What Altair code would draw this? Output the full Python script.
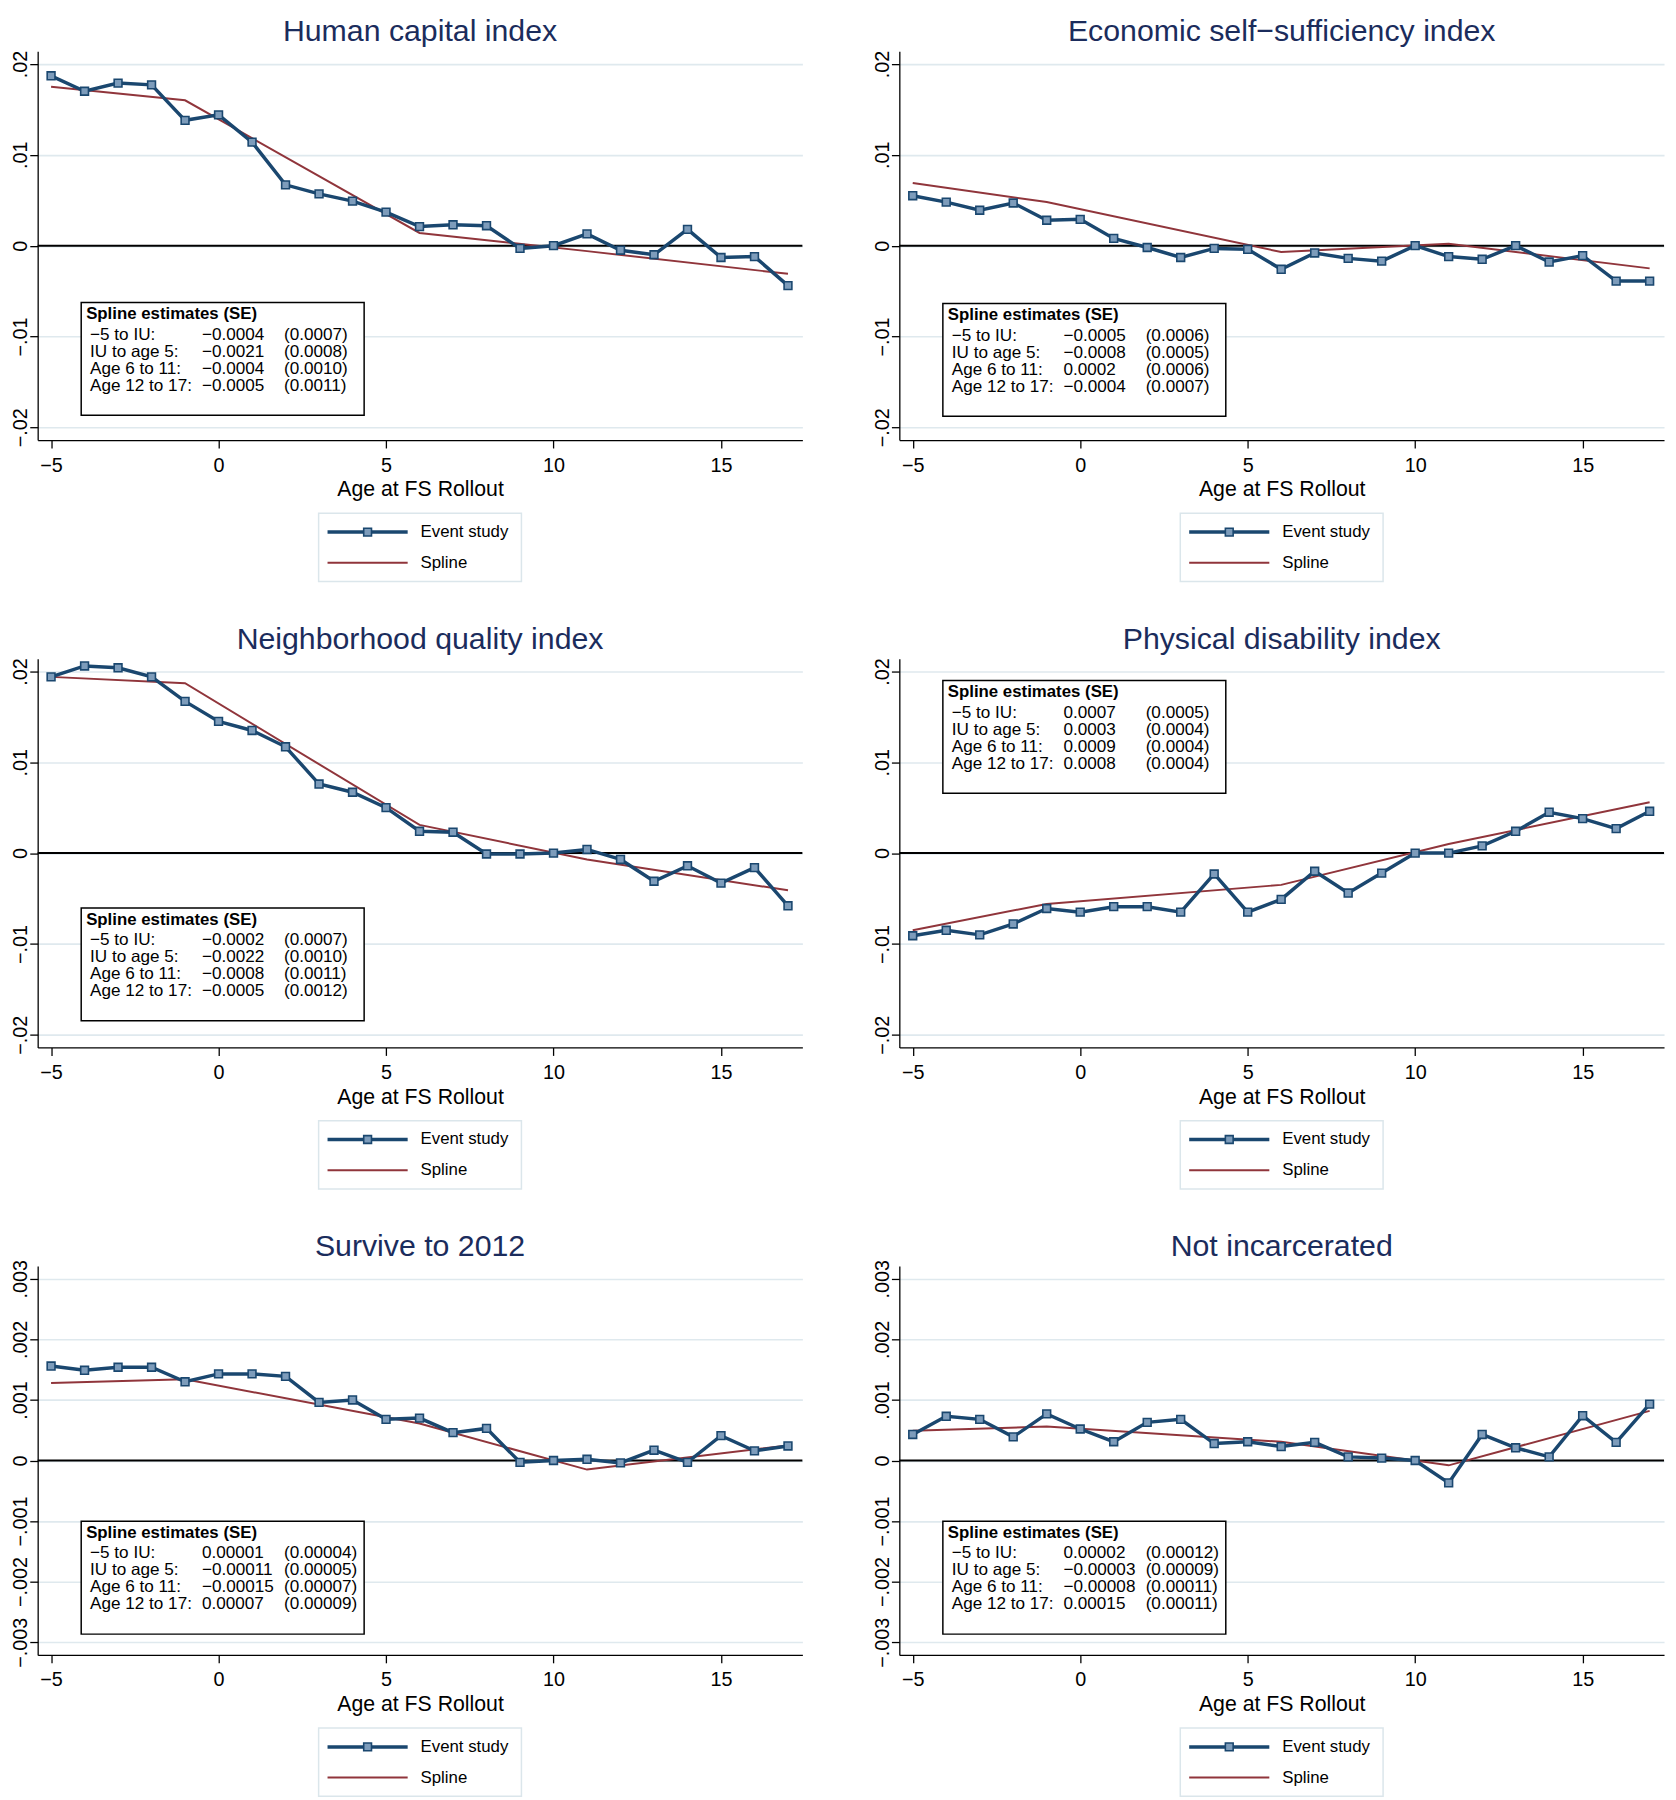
import altair as alt
import pandas as pd

# ---------------- data ----------------
AGES = list(range(-5, 18))
KNOTS = [-5, -1, 6, 11, 17]
ROW_LABELS = ["\u22125 to IU:", "IU to age 5:", "Age 6 to 11:", "Age 12 to 17:"]
LEGEND_LABELS = ["Event study", "Spline"]
X_TICKS = [-5, 0, 5, 10, 15]
Y_TICKS_BIG = [-0.02, -0.01, 0, 0.01, 0.02]
Y_TICKS_SMALL = [-0.003, -0.002, -0.001, 0, 0.001, 0.002, 0.003]

titles = ["Human capital index", "Economic self\u2212sufficiency index",
          "Neighborhood quality index", "Physical disability index",
          "Survive to 2012", "Not incarcerated"]

event_human = [0.0187, 0.0170, 0.0179, 0.0177, 0.0138, 0.0144, 0.0114, 0.0067, 0.0057, 0.0049,
               0.0037, 0.0021, 0.0023, 0.0022, -0.0003, 0.0000, 0.0013, -0.0005, -0.0010, 0.0018,
               -0.0013, -0.0012, -0.0044]
spline_human = [0.0175, 0.0160, 0.0014, -0.0006, -0.0031]
est_human = ["\u22120.0004", "\u22120.0021", "\u22120.0004", "\u22120.0005"]
se_human = ["(0.0007)", "(0.0008)", "(0.0010)", "(0.0011)"]

event_econ = [0.0055, 0.0048, 0.0039, 0.0047, 0.0028, 0.0029, 0.0008, -0.0002, -0.0013, -0.0003,
              -0.0004, -0.0026, -0.0008, -0.0014, -0.0017, 0.0000, -0.0012, -0.0015, 0.0000, -0.0018,
              -0.0011, -0.0039, -0.0039]
spline_econ = [0.0069, 0.0048, -0.0007, 0.0002, -0.0025]
est_econ = ["\u22120.0005", "\u22120.0008", "\u20050.0002", "\u22120.0004"]
se_econ = ["(0.0006)", "(0.0005)", "(0.0006)", "(0.0007)"]

event_neigh = [0.0194, 0.0206, 0.0204, 0.0194, 0.0167, 0.0145, 0.0135, 0.0117, 0.0076, 0.0067,
               0.0050, 0.0024, 0.0023, -0.0001, -0.0001, 0.0000, 0.0004, -0.0007, -0.0031, -0.0014,
               -0.0033, -0.0016, -0.0058]
spline_neigh = [0.0194, 0.0187, 0.0031, -0.0007, -0.0041]
est_neigh = ["\u22120.0002", "\u22120.0022", "\u22120.0008", "\u22120.0005"]
se_neigh = ["(0.0007)", "(0.0010)", "(0.0011)", "(0.0012)"]

event_phys = [-0.0091, -0.0085, -0.0090, -0.0078, -0.0061, -0.0065, -0.0059, -0.0059, -0.0065, -0.0023,
              -0.0065, -0.0051, -0.0020, -0.0044, -0.0022, 0.0000, 0.0000, 0.0008, 0.0024, 0.0045,
              0.0038, 0.0027, 0.0046]
spline_phys = [-0.0085, -0.0056, -0.0035, 0.0010, 0.0056]
est_phys = ["0.0007", "0.0003", "0.0009", "0.0008"]
se_phys = ["(0.0005)", "(0.0004)", "(0.0004)", "(0.0004)"]

event_surv = [0.00156, 0.00149, 0.00154, 0.00154, 0.00130, 0.00143, 0.00143, 0.00139, 0.00096, 0.00100,
              0.00068, 0.00070, 0.00046, 0.00053, -0.00003, 0.00000, 0.00002, -0.00004, 0.00017, -0.00003,
              0.00041, 0.00016, 0.00024]
spline_surv = [0.00128, 0.00134, 0.00061, -0.00015, 0.00025]
est_surv = ["\u20050.00001", "\u22120.00011", "\u22120.00015", "\u20050.00007"]
se_surv = ["(0.00004)", "(0.00005)", "(0.00007)", "(0.00009)"]

event_incar = [0.00043, 0.00073, 0.00068, 0.00039, 0.00077, 0.00052, 0.00031, 0.00063, 0.00068, 0.00028,
               0.00031, 0.00023, 0.00030, 0.00006, 0.00004, 0.00000, -0.00037, 0.00043, 0.00021, 0.00006,
               0.00074, 0.00030, 0.00093]
spline_incar = [0.00049, 0.00056, 0.00031, -0.00008, 0.00082]
est_incar = ["\u20050.00002", "\u22120.00003", "\u22120.00008", "\u20050.00015"]
se_incar = ["(0.00012)", "(0.00009)", "(0.00011)", "(0.00011)"]

# ---------------- style ----------------
NAVY = "#1a476f"
MAROON = "#90353b"
MARKER_FILL = "#7d9cbb"
TITLE_COLOR = "#1b2c5c"
GRID = "#dfe9ee"
FONT = "Liberation Sans"
W, H = 773, 393
X_DOMAIN = [-5.4, 17.43]


def panel(title, event, spline, est, se, small, box_y):
    if small:
        ydom = [-0.00321, 0.00321]
        yticks = Y_TICKS_SMALL
        fmt = ".3f"
    else:
        ydom = [-0.0214, 0.0214]
        yticks = Y_TICKS_BIG
        fmt = ".2f"
    label_expr = ("datum.value == 0 ? '0' : (datum.value < 0 ? '\u2212' : '') + "
                  "substring(format(abs(datum.value), '%s'), 1)" % fmt)
    xax = alt.Axis(values=X_TICKS, title="Age at FS Rollout", grid=False)
    yax = alt.Axis(values=yticks, title=None, grid=True, labelExpr=label_expr)
    xs = alt.Scale(domain=X_DOMAIN, nice=False, zero=False)
    ys = alt.Scale(domain=ydom, nice=False, zero=False)

    ev = pd.DataFrame({"age": AGES, "val": event})
    sp = pd.DataFrame({"age": KNOTS, "val": spline})

    enc = dict(x=alt.X("age:Q", scale=xs, axis=xax), y=alt.Y("val:Q", scale=ys, axis=yax))

    zero = alt.Chart(pd.DataFrame({"age": [X_DOMAIN[0], X_DOMAIN[1]], "val": [0, 0]})).mark_line(
        color="black", strokeWidth=2).encode(**enc)
    spl = alt.Chart(sp).mark_line(color=MAROON, strokeWidth=2).encode(**enc)
    evl = alt.Chart(ev).mark_line(color=NAVY, strokeWidth=3.5).encode(**enc)
    evp = alt.Chart(ev).mark_point(shape="square", filled=True, fill=MARKER_FILL, stroke=NAVY,
                                   strokeWidth=1.6, size=62, opacity=1).encode(**enc)

    one = pd.DataFrame({"k": [0]})
    ttl = alt.Chart(one).mark_text(text=title, fontSize=30.6, color=TITLE_COLOR, font=FONT,
                                   align="center", baseline="alphabetic").encode(
        x=alt.value(W / 2), y=alt.value(-10))

    bx, by = 44, box_y
    box = alt.Chart(one).mark_rect(fill="white", stroke="black", strokeWidth=1.5).encode(
        x=alt.value(bx), x2=alt.value(bx + 286), y=alt.value(by), y2=alt.value(by + 114))
    head = alt.Chart(one).mark_text(text="Spline estimates (SE)", fontWeight="bold", fontSize=17,
                                    align="left", baseline="middle", font=FONT, color="black").encode(
        x=alt.value(bx + 5), y=alt.value(by + 12))
    cols = []
    for txt, off in [(ROW_LABELS, 9), (est, 122), (se, 205)]:
        cols.append(alt.Chart(one).mark_text(text="\n".join(txt), lineBreak="\n", lineHeight=17.2,
                                             fontSize=17.3, align="left", baseline="middle",
                                             font=FONT, color="black").encode(
            x=alt.value(bx + off), y=alt.value(by + 32.5)))

    # legend below the plot
    lx, ly = 284, 467
    lbox = alt.Chart(one).mark_rect(fill="white", stroke="#dbe6eb", strokeWidth=1.5).encode(
        x=alt.value(lx), x2=alt.value(lx + 205), y=alt.value(ly), y2=alt.value(ly + 69))
    l1 = alt.Chart(one).mark_rule(color=NAVY, strokeWidth=3.5).encode(
        x=alt.value(lx + 9), x2=alt.value(lx + 90), y=alt.value(ly + 19))
    l1p = alt.Chart(one).mark_point(shape="square", filled=True, fill=MARKER_FILL, stroke=NAVY,
                                    strokeWidth=1.6, size=62, opacity=1).encode(
        x=alt.value(lx + 49.5), y=alt.value(ly + 19))
    l2 = alt.Chart(one).mark_rule(color=MAROON, strokeWidth=2).encode(
        x=alt.value(lx + 9), x2=alt.value(lx + 90), y=alt.value(ly + 50))
    t1 = alt.Chart(one).mark_text(text=LEGEND_LABELS[0], fontSize=17, align="left", baseline="middle",
                                  font=FONT, color="black").encode(x=alt.value(lx + 103), y=alt.value(ly + 19))
    t2 = alt.Chart(one).mark_text(text=LEGEND_LABELS[1], fontSize=17, align="left", baseline="middle",
                                  font=FONT, color="black").encode(x=alt.value(lx + 103), y=alt.value(ly + 50))

    return alt.layer(zero, spl, evl, evp, ttl, box, head, *cols, lbox, l1, l2, l1p, t1, t2).properties(
        width=W, height=H)


specs = [
    (titles[0], event_human, spline_human, est_human, se_human, False, 254),
    (titles[1], event_econ, spline_econ, est_econ, se_econ, False, 255),
    (titles[2], event_neigh, spline_neigh, est_neigh, se_neigh, False, 252),
    (titles[3], event_phys, spline_phys, est_phys, se_phys, False, 22),
    (titles[4], event_surv, spline_surv, est_surv, se_surv, True, 258),
    (titles[5], event_incar, spline_incar, est_incar, se_incar, True, 258),
]
panels = [panel(*s) for s in specs]

rows = [alt.hconcat(panels[i], panels[i + 1], spacing=67) for i in (0, 2, 4)]
chart = alt.vconcat(*rows, spacing=43).properties(
    padding={"left": 3, "top": 0, "right": 0, "bottom": 0}
).configure_view(stroke=None).configure_axis(
    domainColor="black", domainWidth=1.3, tickColor="black", tickWidth=1.3, tickSize=8,
    labelColor="black", labelFont=FONT, labelFontSize=20, titleFont=FONT, titleFontSize=21.5,
    titleFontWeight="normal", titleColor="black", gridColor=GRID, gridWidth=1.6
).configure_axisX(labelPadding=7.3, titlePadding=4).configure_axisY(
    labelAngle=270, labelAlign="center", labelBaseline="alphabetic", labelPadding=3
)

chart.save("out.html", embed_options={"renderer": "svg", "actions": False})
